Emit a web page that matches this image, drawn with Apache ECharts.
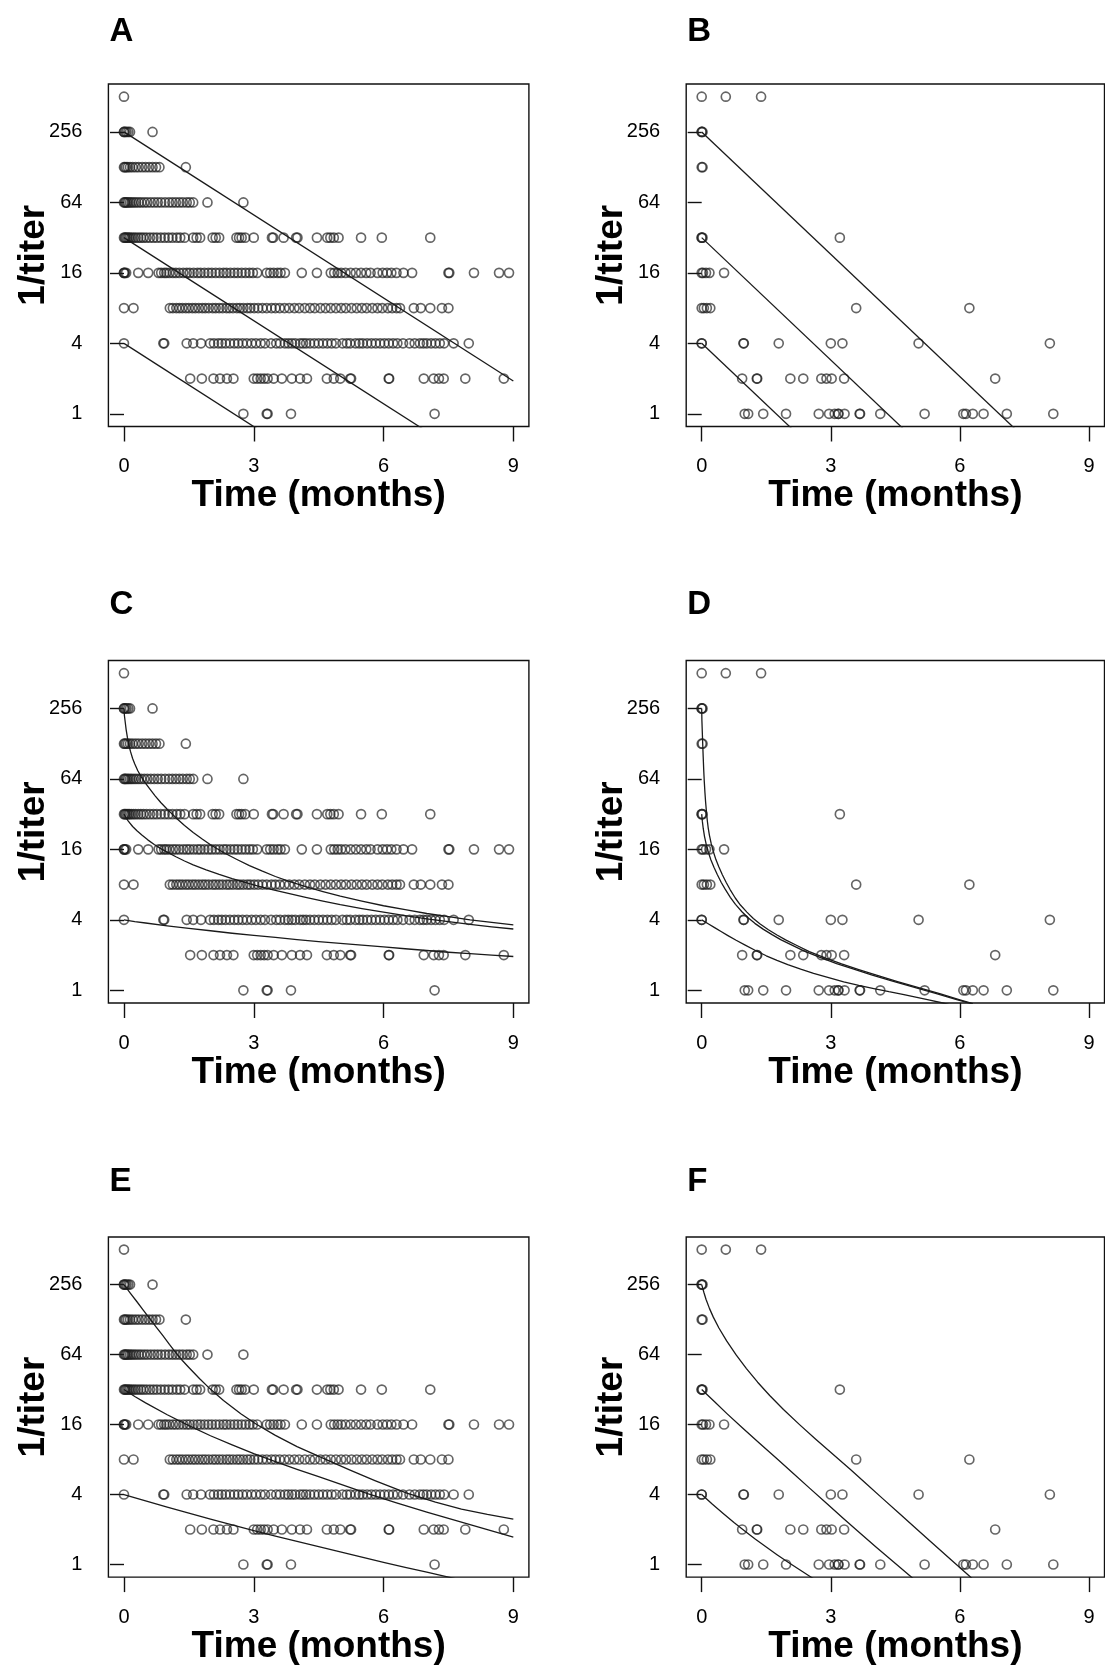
<!DOCTYPE html>
<html>
<head>
<meta charset="utf-8">
<script src="https://cdn.jsdelivr.net/npm/echarts@6/dist/echarts.min.js"></script>
<style>
html,body{margin:0;padding:0;background:#ffffff;}
#c{width:1105px;height:1666px;}
</style>
</head>
<body>
<div id="c"></div>
<script>
// ---------------- tick labels ----------------
const xTickValues = [0, 3, 6, 9];
const yTickValues = [1, 4, 16, 64, 256];

// ---------------- left-column data (panels A, C, E): times (months) per 1/titer level ----------------
const leftAt512 = [0];
const leftAt256 = [0, 0, 0.03, 0.06, 0.1, 0.14, 0.66];
const leftAt128 = [0, 0.02, 0.05, 0.09, 0.14, 0.2, 0.27, 0.34, 0.42, 0.5, 0.58, 0.66, 0.74, 0.82, 1.43];
const leftAt64 = [0, 0.02, 0.04, 0.07, 0.1, 0.14, 0.18, 0.23, 0.28, 0.34, 0.4, 0.47, 0.54, 0.62, 0.7, 0.78, 0.86, 0.95, 1.04, 1.12, 1.2, 1.28, 1.36, 1.45, 1.52, 1.6, 1.93, 2.76];
const leftAt32 = [0, 0.02, 0.04, 0.07, 0.1, 0.13, 0.17, 0.22, 0.27, 0.33, 0.39, 0.45, 0.52, 0.6, 0.68, 0.76, 0.85, 0.94, 1.03, 1.12, 1.22, 1.3, 1.4, 1.6, 1.68, 1.76, 2.05, 2.12, 2.2, 2.6, 2.66, 2.72, 2.8, 3.0, 3.42, 3.45, 3.69, 3.98, 4.01, 4.46, 4.7, 4.77, 4.85, 4.96, 5.48, 5.96, 7.08];
const leftAt16 = [0, 0, 0.02, 0.05, 0.33, 0.56, 0.8, 0.86, 0.93, 0.98, 1.05, 1.13, 1.2, 1.28, 1.37, 1.45, 1.52, 1.61, 1.7, 1.77, 1.86, 1.95, 2.03, 2.12, 2.21, 2.3, 2.37, 2.46, 2.55, 2.63, 2.72, 2.81, 2.9, 2.98, 3.08, 3.3, 3.38, 3.46, 3.55, 3.62, 3.72, 4.11, 4.46, 4.78, 4.86, 4.94, 5.02, 5.12, 5.24, 5.36, 5.48, 5.6, 5.7, 5.86, 5.98, 6.08, 6.18, 6.3, 6.46, 6.66, 7.5, 7.52, 8.09, 8.67, 8.9];
const leftAt8 = [0, 0.22, 1.06, 1.13, 1.21, 1.28, 1.35, 1.43, 1.5, 1.58, 1.65, 1.73, 1.81, 1.88, 1.96, 2.05, 2.12, 2.2, 2.28, 2.37, 2.44, 2.52, 2.61, 2.68, 2.76, 2.85, 2.92, 3.01, 3.1, 3.2, 3.3, 3.41, 3.5, 3.6, 3.71, 3.82, 3.94, 4.05, 4.18, 4.3, 4.41, 4.54, 4.66, 4.78, 4.9, 5.02, 5.13, 5.26, 5.38, 5.5, 5.61, 5.74, 5.86, 5.97, 6.1, 6.2, 6.3, 6.38, 6.7, 6.86, 7.08, 7.35, 7.5];
const leftAt4 = [0, 0.91, 0.93, 1.45, 1.6, 1.78, 1.99, 2.08, 2.18, 2.26, 2.35, 2.45, 2.55, 2.64, 2.74, 2.84, 2.95, 3.05, 3.16, 3.26, 3.4, 3.52, 3.61, 3.72, 3.8, 3.88, 3.96, 4.07, 4.14, 4.21, 4.3, 4.4, 4.5, 4.6, 4.7, 4.8, 4.9, 5.05, 5.15, 5.23, 5.35, 5.44, 5.52, 5.62, 5.72, 5.82, 5.92, 6.02, 6.12, 6.22, 6.32, 6.45, 6.6, 6.72, 6.84, 6.92, 7.0, 7.1, 7.2, 7.3, 7.4, 7.62, 7.97];
const leftAt2 = [1.53, 1.8, 2.07, 2.22, 2.38, 2.53, 3.0, 3.08, 3.16, 3.24, 3.32, 3.46, 3.65, 3.88, 4.07, 4.23, 4.69, 4.85, 5.0, 5.23, 5.25, 6.12, 6.13, 6.93, 7.16, 7.28, 7.39, 7.89, 8.78];
const leftAt1 = [2.76, 3.3, 3.32, 3.86, 7.18];

// ---------------- right-column data (panels B, D, F) ----------------
const rightAt512 = [0, 0.56, 1.38];
const rightAt256 = [0, 0, 0.02];
const rightAt128 = [0, 0.02];
const rightAt64 = [];
const rightAt32 = [0, 0, 0.02, 3.21];
const rightAt16 = [0, 0.03, 0.1, 0.18, 0.52];
const rightAt8 = [0, 0.05, 0.12, 0.2, 3.59, 6.22];
const rightAt4 = [0, 0, 0.97, 0.98, 1.79, 3.0, 3.27, 5.04, 8.09];
const rightAt2 = [0.94, 1.28, 1.29, 2.06, 2.36, 2.78, 2.9, 3.02, 3.31, 6.82];
const rightAt1 = [1.0, 1.08, 1.43, 1.96, 2.72, 2.96, 3.09, 3.17, 3.18, 3.32, 3.67, 3.68, 4.15, 5.18, 6.08, 6.14, 6.3, 6.55, 7.09, 8.17];

// ---------------- fitted lines: [time, log2(1/titer)] ----------------
const fitA1 = [[0, 8], [9, 0.93]];
const fitA2 = [[0, 5], [7, -0.5]];
const fitA3 = [[0, 2], [3.2, -0.52]];

const fitB1 = [[0, 8], [7.5, -0.68]];
const fitB2 = [[0, 5], [5, -0.79]];
const fitB3 = [[0, 2], [2.3, -0.66]];

const fitC1 = [[0, 8], [0.01, 7.8], [0.03, 7.6], [0.05, 7.4], [0.08, 7.17], [0.11, 6.98], [0.15, 6.78], [0.2, 6.58], [0.25, 6.42], [0.32, 6.23], [0.4, 6.06], [0.5, 5.87], [0.6, 5.71], [0.72, 5.52], [0.85, 5.33], [1.0, 5.14], [1.2, 4.9], [1.4, 4.68], [1.6, 4.48], [1.8, 4.3], [2.0, 4.13], [2.3, 3.91], [2.6, 3.72], [2.9, 3.54], [3.2, 3.38], [3.5, 3.23], [3.8, 3.1], [4.2, 2.94], [4.6, 2.8], [5.0, 2.67], [5.5, 2.53], [6.0, 2.4], [6.5, 2.29], [7.0, 2.18], [7.5, 2.09], [8.0, 2.0], [8.5, 1.93], [9.0, 1.86]];
const fitC2 = [[0, 5], [0.05, 4.89], [0.1, 4.8], [0.2, 4.65], [0.3, 4.53], [0.42, 4.4], [0.55, 4.27], [0.7, 4.14], [0.85, 4.02], [1.0, 3.92], [1.2, 3.79], [1.4, 3.67], [1.6, 3.56], [1.9, 3.42], [2.2, 3.29], [2.5, 3.17], [2.8, 3.06], [3.1, 2.96], [3.45, 2.85], [3.8, 2.75], [4.2, 2.64], [4.6, 2.53], [5.0, 2.43], [5.5, 2.32], [6.0, 2.22], [6.5, 2.12], [7.0, 2.03], [7.5, 1.95], [8.0, 1.87], [8.5, 1.8], [9.0, 1.74]];
const fitC3 = [[0, 2], [0.25, 1.95], [0.5, 1.91], [1, 1.83], [1.5, 1.76], [2, 1.69], [2.5, 1.62], [3, 1.56], [3.5, 1.5], [4, 1.44], [4.5, 1.38], [5, 1.33], [5.5, 1.28], [6, 1.23], [6.5, 1.18], [7, 1.13], [7.5, 1.08], [8, 1.04], [8.5, 1.0], [9, 0.96]];

const fitD1 = [[0, 8], [0.005, 7.65], [0.015, 7.3], [0.025, 6.95], [0.035, 6.62], [0.047, 6.25], [0.06, 5.93], [0.075, 5.62], [0.09, 5.36], [0.11, 5.07], [0.13, 4.82], [0.15, 4.62], [0.18, 4.4], [0.22, 4.17], [0.27, 3.94], [0.33, 3.71], [0.4, 3.5], [0.48, 3.28], [0.57, 3.06], [0.66, 2.86], [0.78, 2.62], [0.9, 2.42], [1.05, 2.22], [1.2, 2.04], [1.35, 1.89], [1.55, 1.72], [1.75, 1.57], [1.95, 1.43], [2.2, 1.28], [2.5, 1.1], [2.85, 0.93], [3.25, 0.75], [3.65, 0.59], [4.06, 0.43], [4.55, 0.25], [5.06, 0.07], [5.55, -0.1], [6.0, -0.27], [6.3, -0.38]];
const fitD2 = [[0, 5], [0.015, 4.8], [0.035, 4.6], [0.065, 4.37], [0.105, 4.14], [0.155, 3.92], [0.215, 3.7], [0.285, 3.49], [0.365, 3.28], [0.455, 3.06], [0.545, 2.87], [0.665, 2.64], [0.785, 2.44], [0.935, 2.23], [1.085, 2.05], [1.235, 1.9], [1.435, 1.73], [1.635, 1.58], [1.835, 1.44], [2.085, 1.29], [2.385, 1.11], [2.735, 0.94], [3.135, 0.76], [3.535, 0.6], [3.945, 0.44], [4.435, 0.26], [4.945, 0.08], [5.435, -0.09], [5.885, -0.25], [6.3, -0.39]];
const fitD3 = [[0, 2], [0.15, 1.89], [0.3, 1.78], [0.45, 1.67], [0.6, 1.56], [0.8, 1.42], [1.0, 1.29], [1.25, 1.13], [1.5, 0.98], [1.75, 0.85], [2.0, 0.73], [2.3, 0.6], [2.6, 0.48], [2.95, 0.36], [3.3, 0.24], [3.65, 0.14], [4.0, 0.05], [4.35, -0.04], [4.7, -0.12], [5.0, -0.2], [5.3, -0.28], [5.6, -0.36], [5.8, -0.42]];

const fitE1 = [[0, 8], [0.15, 7.75], [0.3, 7.51], [0.45, 7.26], [0.6, 7.02], [0.75, 6.78], [0.9, 6.54], [1.05, 6.29], [1.22, 6.02], [1.35, 5.83], [1.5, 5.63], [1.75, 5.31], [1.99, 5.02], [2.3, 4.69], [2.7, 4.31], [3.07, 4.0], [3.5, 3.69], [4.0, 3.37], [4.69, 2.99], [5.2, 2.71], [5.8, 2.4], [6.54, 2.04], [7.2, 1.78], [7.8, 1.58], [8.4, 1.43], [9.0, 1.3]];
const fitE2 = [[0, 5], [0.25, 4.8], [0.5, 4.62], [1.0, 4.28], [1.5, 3.97], [2.0, 3.68], [2.5, 3.42], [3.0, 3.17], [3.5, 2.94], [4.0, 2.72], [4.5, 2.51], [5.0, 2.3], [5.65, 2.02], [6.3, 1.76], [7.0, 1.5], [7.5, 1.32], [8.0, 1.14], [8.5, 0.96], [9.0, 0.78]];
const fitE3 = [[0, 2], [0.5, 1.82], [1, 1.64], [1.5, 1.47], [2, 1.3], [2.5, 1.13], [3, 0.97], [3.5, 0.81], [4, 0.66], [4.5, 0.51], [5, 0.36], [5.5, 0.21], [6, 0.06], [6.5, -0.08], [7, -0.22], [7.5, -0.36], [8, -0.5]];

const fitF1 = [[0, 8], [0.05, 7.78], [0.1, 7.58], [0.18, 7.32], [0.27, 7.07], [0.4, 6.76], [0.58, 6.39], [0.8, 5.99], [1.04, 5.6], [1.3, 5.21], [1.58, 4.83], [1.9, 4.43], [2.28, 3.99], [2.65, 3.58], [3.05, 3.15], [3.45, 2.72], [3.83, 2.3], [4.2, 1.89], [4.6, 1.45], [5.0, 1.01], [5.37, 0.6], [5.8, 0.13], [6.2, -0.31], [6.5, -0.64]];
const fitF2 = [[0, 5], [0.3, 4.65], [0.58, 4.32], [0.95, 3.9], [1.35, 3.46], [1.75, 3.02], [2.13, 2.6], [2.5, 2.19], [2.9, 1.75], [3.3, 1.31], [3.67, 0.91], [4.05, 0.5], [4.44, 0.09], [4.7, -0.18], [4.95, -0.44]];
const fitF3 = [[0, 2], [0.25, 1.72], [0.5, 1.46], [0.75, 1.2], [1.0, 0.96], [1.25, 0.72], [1.5, 0.5], [1.75, 0.28], [2.0, 0.07], [2.25, -0.13], [2.5, -0.33], [2.7, -0.49]];

// ---------------- build ----------------
function rowsToPoints(rows) {
  const pts = [];
  rows.forEach(function (r) {
    r[1].forEach(function (t) { pts.push([t, r[0]]); });
  });
  return pts;
}
const leftPoints = rowsToPoints([[512, leftAt512], [256, leftAt256], [128, leftAt128], [64, leftAt64], [32, leftAt32], [16, leftAt16], [8, leftAt8], [4, leftAt4], [2, leftAt2], [1, leftAt1]]);
const rightPoints = rowsToPoints([[512, rightAt512], [256, rightAt256], [128, rightAt128], [64, rightAt64], [32, rightAt32], [16, rightAt16], [8, rightAt8], [4, rightAt4], [2, rightAt2], [1, rightAt1]]);
function toTiter(fit) { return fit.map(function (p) { return [p[0], Math.pow(2, p[1])]; }); }

const panels = [
  { letter: 'A', col: 0, row: 0, pts: leftPoints, fits: [fitA1, fitA2, fitA3] },
  { letter: 'B', col: 1, row: 0, pts: rightPoints, fits: [fitB1, fitB2, fitB3] },
  { letter: 'C', col: 0, row: 1, pts: leftPoints, fits: [fitC1, fitC2, fitC3] },
  { letter: 'D', col: 1, row: 1, pts: rightPoints, fits: [fitD1, fitD2, fitD3] },
  { letter: 'E', col: 0, row: 2, pts: leftPoints, fits: [fitE1, fitE2, fitE3] },
  { letter: 'F', col: 1, row: 2, pts: rightPoints, fits: [fitF1, fitF2, fitF3] }
];

const colLeft = [108.4, 686.2];
const colWidth = [420.5, 418.3];
const rowTop = [84, 660.5, 1237];
const letterTop = [15, 588, 1165];
const gridH = 342.5;
const FONT = 'Liberation Sans, Arial, Helvetica, sans-serif';

const grids = [], xAxes = [], yAxes = [], series = [], titles = [];
panels.forEach(function (p, i) {
  const left = colLeft[p.col], top = rowTop[p.row];
  grids.push({
    left: left, top: top, width: colWidth[p.col], height: gridH,
    show: true, borderColor: '#111', borderWidth: 1.4, backgroundColor: 'transparent'
  });
  titles.push({
    text: p.letter, left: left + 1, top: letterTop[p.row], padding: 0,
    textStyle: { fontFamily: FONT, fontWeight: 'bold', fontSize: 33, color: '#000' }
  });
  xAxes.push({
    gridIndex: i, type: 'value', min: -0.36, max: 9.36,
    name: 'Time (months)', nameLocation: 'middle', nameGap: 46,
    nameTextStyle: { fontFamily: FONT, fontWeight: 'bold', fontSize: 37, color: '#000' },
    axisLine: { show: false }, splitLine: { show: false },
    axisTick: { show: true, inside: false, length: 15, customValues: xTickValues, lineStyle: { color: '#111', width: 1.4 } },
    axisLabel: { show: true, customValues: xTickValues, margin: 30, fontSize: 20, fontFamily: FONT, color: '#000' }
  });
  yAxes.push({
    gridIndex: i, type: 'log', logBase: 2, min: Math.pow(2, -0.36), max: Math.pow(2, 9.36),
    name: '1/titer', nameLocation: 'middle', nameGap: 56, nameMoveOverlap: false,
    nameTextStyle: { fontFamily: FONT, fontWeight: 'bold', fontSize: 37, color: '#000' },
    axisLine: { show: false }, splitLine: { show: false }, minorTick: { show: false },
    axisTick: { show: true, inside: false, length: 14, customValues: yTickValues, lineStyle: { color: '#111', width: 1.4 } },
    axisLabel: { show: true, customValues: yTickValues, margin: 26, fontSize: 20, fontFamily: FONT, color: '#000',
      formatter: function (v) { return String(Math.round(v)); } }
  });
  series.push({
    type: 'scatter', xAxisIndex: i, yAxisIndex: i, data: p.pts,
    symbol: 'circle', symbolSize: 9,
    itemStyle: { color: 'rgba(0,0,0,0)', borderColor: 'rgba(30,30,30,0.85)', borderWidth: 1.65 },
    emphasis: { disabled: true }, silent: true, z: 2
  });
  p.fits.forEach(function (f) {
    series.push({
      type: 'line', xAxisIndex: i, yAxisIndex: i, data: toTiter(f),
      showSymbol: false, symbol: 'none', smooth: false,
      clip: true, lineStyle: { color: '#1a1a1a', width: 1.3, join: 'round' },
      emphasis: { disabled: true }, silent: true, z: 3
    });
  });
});

const chart = echarts.init(document.getElementById('c'), null, { renderer: 'canvas' });
chart.setOption({
  animation: false,
  backgroundColor: '#ffffff',
  title: titles,
  grid: grids,
  xAxis: xAxes,
  yAxis: yAxes,
  series: series
});
</script>
</body>
</html>
